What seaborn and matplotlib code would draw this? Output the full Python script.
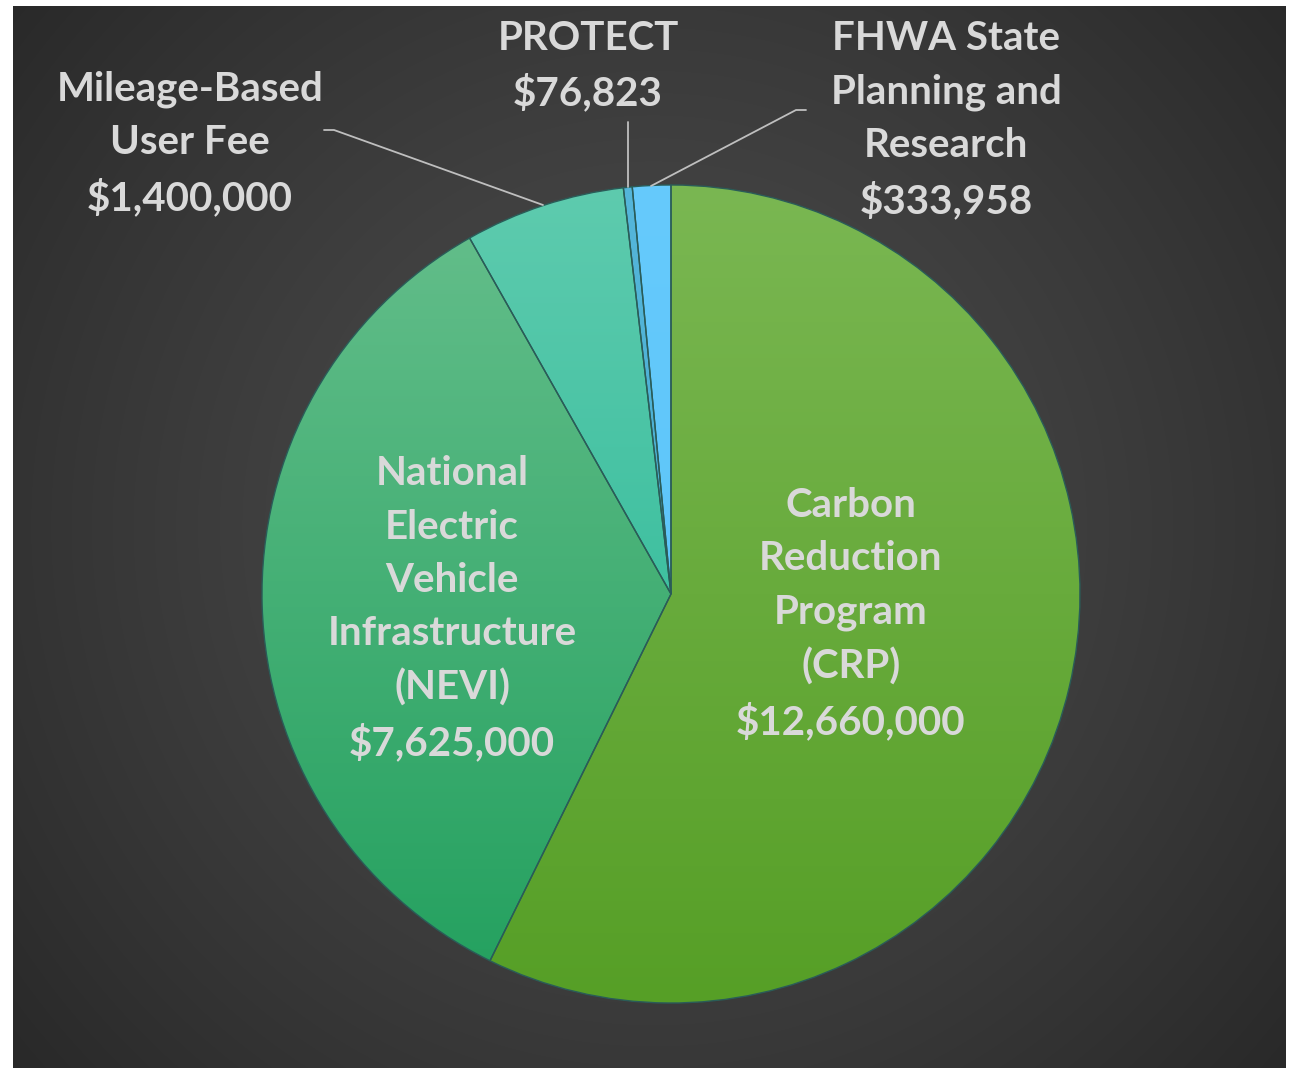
import matplotlib.pyplot as plt
import numpy as np
import seaborn as sns
from matplotlib.colors import LinearSegmentedColormap

sns.set_style('white')
plt.rcParams['font.family'] = ['Lato', 'DejaVu Sans']

# datos del grafico
programas = ['Carbon\nReduction\nProgram\n(CRP)',
             'National\nElectric\nVehicle\nInfrastructure\n(NEVI)',
             'Mileage-Based\nUser Fee',
             'PROTECT',
             'FHWA State\nPlanning and\nResearch']
montos = [12660000, 7625000, 1400000, 76823, 333958]
color_arriba = ['#7ab752', '#66bf8c', '#5ecbae', '#55b6da', '#66cafc']
color_abajo = ['#569f26', '#22a05e', '#1fb592', '#3fa8cc', '#55c2f6']

W, H = 1291, 1068
fig = plt.figure(figsize=(W / 100, H / 100), dpi=100)
fig.patch.set_facecolor('white')

# fondo con degradado radial
ax_bg = fig.add_axes([13 / W, 0, 1273 / W, 1062 / H])
yy, xx = np.mgrid[0:1062, 0:1273]
dist = np.sqrt((xx - 640) ** 2 + (yy - 520) ** 2) / 850
fondo = np.clip(0x4c - (0x4c - 0x28) * dist ** 1.3, 0x26, 0x4c) / 255
ax_bg.imshow(np.dstack([fondo, fondo, fondo]), aspect='auto', interpolation='bilinear')
ax_bg.axis('off')

ax = fig.add_axes([0, 0, 1, 1])
ax.patch.set_alpha(0)
cx, cy, r = 671, H - 594, 409

wedges, _ = ax.pie(montos, startangle=90, counterclock=False, center=(cx, cy), radius=r,
                   colors=color_abajo, wedgeprops=dict(linewidth=0))
grad = np.linspace(0, 1, 256).reshape(-1, 1)
for w, c_top, c_bot in zip(wedges, color_arriba, color_abajo):
    cmap = LinearSegmentedColormap.from_list('g', [c_bot, c_top])
    im = ax.imshow(grad, cmap=cmap, origin='lower', aspect='auto',
                   extent=(cx - r, cx + r, cy - r, cy + r), zorder=2)
    im.set_clip_path(w)
ax.pie(montos, startangle=90, counterclock=False, center=(cx, cy), radius=r,
       wedgeprops=dict(fill=False, edgecolor='#2a5c58', linewidth=1.0, zorder=3))
ax.set_xlim(0, W)
ax.set_ylim(0, H)
ax.set_aspect('auto')
ax.axis('off')

# lineas guia
gris = '#bfbfbf'
ax.plot([324, 334, 543], [H - 130, H - 130, H - 205], color=gris, lw=1.3, zorder=4)
ax.plot([628, 628], [H - 122, H - 187], color=gris, lw=1.3, zorder=4)
ax.plot([806, 796, 651], [H - 110, H - 110, H - 186], color=gris, lw=1.3, zorder=4)

# etiquetas
pos = [(851, 614), (452, 609), (190, 144), (588, 66), (946, 120)]
for nombre, monto, (x, y) in zip(programas, montos, pos):
    ax.text(x, H - y, nombre + '\n' + f'${monto:,.0f}', ha='center', va='center',
            fontsize=29, fontweight='bold', color='#d9d9d9', linespacing=1.54, zorder=5)

fig.savefig('out.png', dpi=100)
